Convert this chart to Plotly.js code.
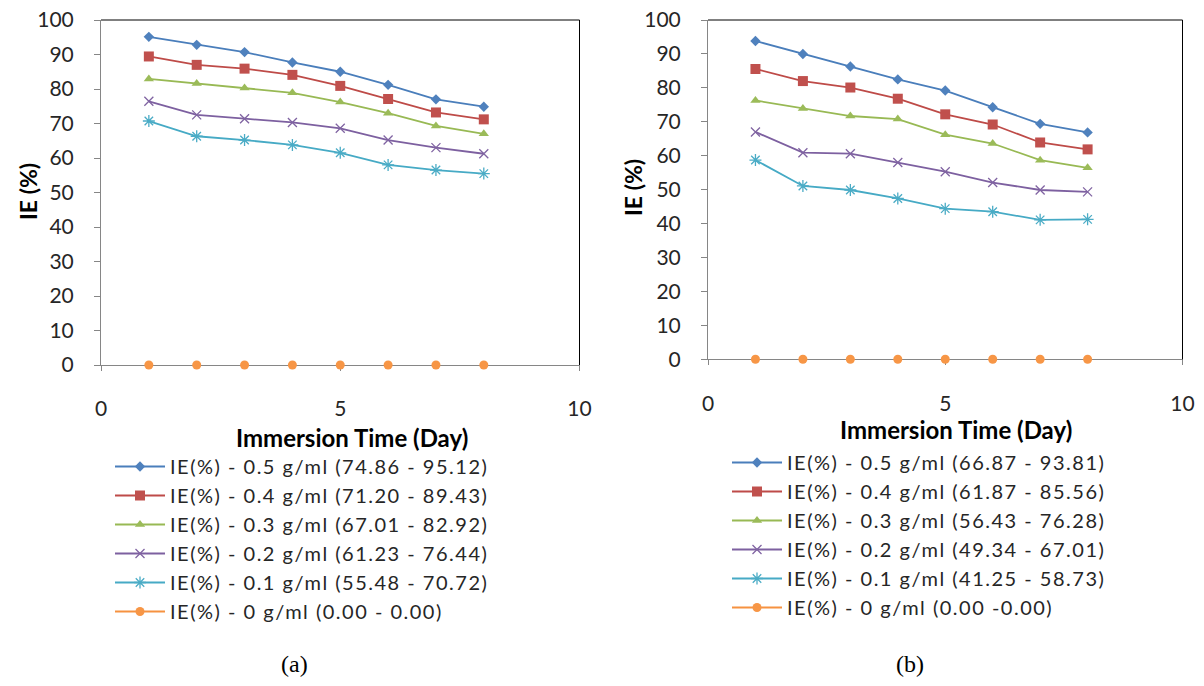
<!DOCTYPE html>
<html>
<head>
<meta charset="utf-8">
<script src="https://cdn.plot.ly/plotly-3.0.1.min.js"></script>
<style>
html,body{margin:0;padding:0;background:#fff;}
#chart{width:1204px;height:686px;}
.legendtext, .infolayer g[class^="legend"] text{letter-spacing:1.5px;}
.infolayer g[class^="legend"] .scrollbox{clip-path:none !important;}
</style>
</head>
<body>
<div id="chart"></div>
<script>
// Immersion time (days)
const days = [1, 2, 3, 4, 5, 6, 7, 8];

// Panel (a)
const a_05 = [95.12, 92.8, 90.7, 87.7, 85.0, 81.2, 77.0, 74.86];
const a_04 = [89.43, 87.0, 85.9, 84.1, 80.9, 77.1, 73.2, 71.20];
const a_03 = [82.92, 81.6, 80.3, 78.9, 76.2, 73.0, 69.3, 67.01];
const a_02 = [76.44, 72.5, 71.4, 70.3, 68.6, 65.2, 63.0, 61.23];
const a_01 = [70.72, 66.3, 65.2, 63.8, 61.5, 58.0, 56.5, 55.48];
const a_00 = [0, 0, 0, 0, 0, 0, 0, 0];

// Panel (b)
const b_05 = [93.81, 90.0, 86.3, 82.5, 79.2, 74.3, 69.4, 66.87];
const b_04 = [85.56, 82.0, 80.1, 76.8, 72.2, 69.2, 63.9, 61.87];
const b_03 = [76.28, 73.9, 71.7, 70.8, 66.2, 63.6, 58.7, 56.43];
const b_02 = [67.01, 60.9, 60.6, 58.0, 55.3, 52.1, 49.9, 49.34];
const b_01 = [58.73, 51.1, 49.9, 47.4, 44.4, 43.5, 41.1, 41.25];
const b_00 = [0, 0, 0, 0, 0, 0, 0, 0];

const namesA = [
  "IE(%) - 0.5 g/ml (74.86 - 95.12)",
  "IE(%) - 0.4 g/ml (71.20 - 89.43)",
  "IE(%) - 0.3 g/ml (67.01 - 82.92)",
  "IE(%) - 0.2 g/ml (61.23 - 76.44)",
  "IE(%) - 0.1 g/ml (55.48 - 70.72)",
  "IE(%) - 0 g/ml (0.00 - 0.00)"
];
const namesB = [
  "IE(%) - 0.5 g/ml (66.87 - 93.81)",
  "IE(%) - 0.4 g/ml (61.87 - 85.56)",
  "IE(%) - 0.3 g/ml (56.43 - 76.28)",
  "IE(%) - 0.2 g/ml (49.34 - 67.01)",
  "IE(%) - 0.1 g/ml (41.25 - 58.73)",
  "IE(%) - 0 g/ml (0.00 -0.00)"
];

const seriesA = [a_05, a_04, a_03, a_02, a_01, a_00];
const seriesB = [b_05, b_04, b_03, b_02, b_01, b_00];

const lineColors = ["#4A7EBB", "#BE4B48", "#98B954", "#7D60A0", "#46AAC5", "#F69240"];
const markerColors = ["#4F81BD", "#C0504D", "#9BBB59", "#8064A2", "#4BACC6", "#F79646"];
const symbols = ["diamond", "square", "triangle-up", "x-thin-open", "asterisk-open", "circle"];
const sizes = [8, 10, 9, 9, 10, 9];

const FONT = "Lato, 'Open Sans', sans-serif";
const traces = [];
function addPanel(series, names, xa, ya, legendId) {
  series.forEach((vals, i) => {
    const isZero = (i === series.length - 1);
    const marker = {symbol: symbols[i], size: sizes[i], color: markerColors[i],
                    line: {color: markerColors[i], width: (i === 3 || i === 4) ? 1.3 : 0}};
    const line = {color: lineColors[i], width: 1.8};
    // the zero series: markers in the plot (its line hides under the axis line), full entry in the legend
    traces.push({
      x: days, y: vals, name: names[i],
      xaxis: xa, yaxis: ya, legend: legendId,
      legendgroup: legendId + i, showlegend: !isZero,
      type: "scatter", mode: isZero ? "markers" : "lines+markers", cliponaxis: false,
      line: line, marker: marker
    });
    if (isZero) {
      traces.push({
        x: [null], y: [null], name: names[i],
        xaxis: xa, yaxis: ya, legend: legendId, legendgroup: legendId + i,
        type: "scatter", mode: "lines+markers", line: line, marker: marker
      });
    }
  });
}
addPanel(seriesA, namesA, "x", "y", "legend");
addPanel(seriesB, namesB, "x2", "y2", "legend2");

const axisGray = "#868686";
function xAxis(domain, anchor) {
  return {domain: domain, anchor: anchor, range: [0, 10], tickvals: [0, 5, 10],
    ticks: "outside", ticklen: 5, tickcolor: axisGray, showline: true, linecolor: axisGray,
    linewidth: 1, showgrid: false, zeroline: false, layer: "below traces",
    ticklabelstandoff: 20, tickfont: {family: FONT, size: 21, color: "#262626"}, fixedrange: true};
}
function yAxis(domain, anchor) {
  return {domain: domain, anchor: anchor, range: [0, 100], dtick: 10,
    ticks: "outside", ticklen: 6, tickcolor: axisGray, showline: true, linecolor: axisGray,
    linewidth: 1, showgrid: false, zeroline: false, layer: "below traces",
    ticklabelstandoff: 16, tickfont: {family: FONT, size: 21, color: "#262626"}, fixedrange: true};
}

const W = 1204, H = 686;
const px = v => v / W, py = v => 1 - v / H;

const legendBase = {
  font: {family: FONT, size: 20, color: "#262626"}, bgcolor: "rgba(0,0,0,0)",
  borderwidth: 0, tracegroupgap: 0, itemwidth: 50, xanchor: "left", yanchor: "top",
  orientation: "v", itemclick: false, itemdoubleclick: false
};

const titleFont = {family: FONT, size: 24, color: "#000"};
const layout = {
  width: W, height: H, margin: {l: 0, r: 0, t: 0, b: 0},
  paper_bgcolor: "#fff", plot_bgcolor: "#fff", showlegend: true,
  xaxis: xAxis([px(101), px(579.5)], "y"),
  yaxis: yAxis([py(365), py(20)], "x"),
  xaxis2: xAxis([px(708), px(1182.5)], "y2"),
  yaxis2: yAxis([py(359.3), py(20)], "x2"),
  legend: Object.assign({}, legendBase, {x: px(110), y: py(447)}),
  legend2: Object.assign({}, legendBase, {x: px(727), y: py(443)}),
  shapes: [
    {type: "line", xref: "x domain", yref: "y domain", x0: 0, x1: 1, y0: 1, y1: 1, line: {color: "#000", width: 1}},
    {type: "line", xref: "x domain", yref: "y domain", x0: 1, x1: 1, y0: 0, y1: 1, line: {color: "#000", width: 1}},
    {type: "line", xref: "x2 domain", yref: "y2 domain", x0: 0, x1: 1, y0: 1, y1: 1, line: {color: "#000", width: 1}},
    {type: "line", xref: "x2 domain", yref: "y2 domain", x0: 1, x1: 1, y0: 0, y1: 1, line: {color: "#000", width: 1}}
  ],
  annotations: [
    {text: "<b>Immersion Time (Day)</b>", xref: "paper", yref: "paper", x: px(352), y: py(437),
     showarrow: false, xanchor: "center", yanchor: "middle", font: titleFont},
    {text: "<b>Immersion Time (Day)</b>", xref: "paper", yref: "paper", x: px(956), y: py(430),
     showarrow: false, xanchor: "center", yanchor: "middle", font: titleFont},
    {text: "<b>IE (%)</b>", xref: "paper", yref: "paper", x: px(28), y: py(192), textangle: -90,
     showarrow: false, xanchor: "center", yanchor: "middle", font: {family: FONT, size: 23, color: "#000"}},
    {text: "<b>IE (%)</b>", xref: "paper", yref: "paper", x: px(633), y: py(188), textangle: -90,
     showarrow: false, xanchor: "center", yanchor: "middle", font: {family: FONT, size: 23, color: "#000"}},
    {text: "(a)", xref: "paper", yref: "paper", x: px(294), y: py(664),
     showarrow: false, xanchor: "center", yanchor: "middle", font: {family: "'Liberation Serif', serif", size: 24, color: "#000"}},
    {text: "(b)", xref: "paper", yref: "paper", x: px(910), y: py(664),
     showarrow: false, xanchor: "center", yanchor: "middle", font: {family: "'Liberation Serif', serif", size: 24, color: "#000"}}
  ]
};

Plotly.newPlot("chart", traces, layout, {displayModeBar: false, staticPlot: true});
</script>
</body>
</html>
